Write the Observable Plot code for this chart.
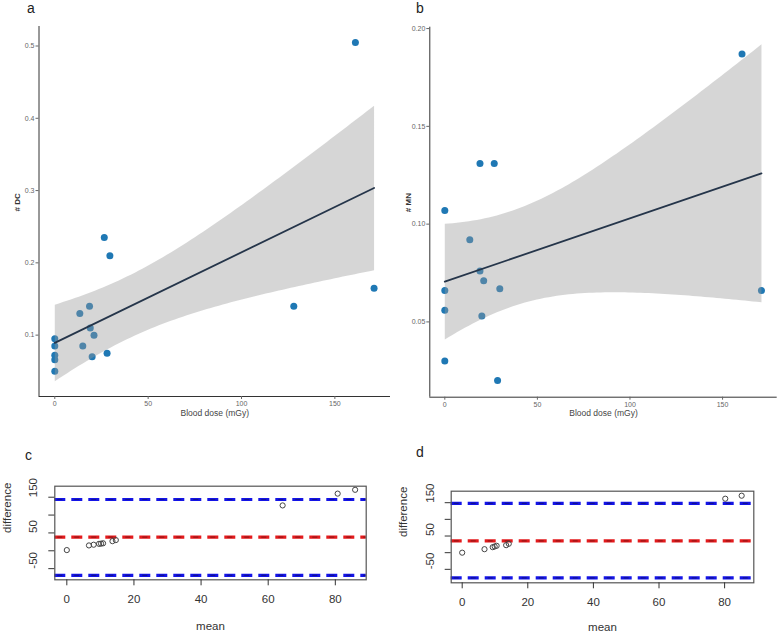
<!DOCTYPE html>
<html>
<head>
<meta charset="utf-8">
<script src="https://cdn.jsdelivr.net/npm/d3@7"></script>
<script src="https://cdn.jsdelivr.net/npm/@observablehq/plot@0.6"></script>
<style>
  html, body { margin: 0; padding: 0; background: #fff; }
  #root { position: relative; width: 778px; height: 636px; overflow: hidden; background: #fff; font-family: "Liberation Sans", Arial, sans-serif; }
  .panel { position: absolute; }
  .panel svg { overflow: visible; }
  .tag { position: absolute; font-size: 14px; color: #222; line-height: 1; }
</style>
</head>
<body>
<div id="root">
  <div class="panel" id="pa" style="left:0px;top:0px"></div>
  <div class="panel" id="pb" style="left:390px;top:0px"></div>
  <div class="panel" id="pc" style="left:0px;top:420px"></div>
  <div class="panel" id="pd" style="left:390px;top:420px"></div>
  <div class="tag" style="left:27px;top:1px">a</div>
  <div class="tag" style="left:416px;top:1px">b</div>
  <div class="tag" style="left:25px;top:448px">c</div>
  <div class="tag" style="left:416px;top:445px">d</div>
</div>
<script>
// ---- Panel a: blood dose vs # DC ----
const doseA = [161, 171, 128, 26.5, 29.5, 18.6, 13.4, 19, 21, 15, 20, 28, 0, 0, 0, 0, 0];
const dcA   = [0.505, 0.165, 0.14, 0.235, 0.21, 0.14, 0.13, 0.11, 0.10, 0.085, 0.07, 0.075, 0.095, 0.085, 0.072, 0.066, 0.05];
const xTicksAB = [0, 50, 100, 150];
const yTicksA = [0.1, 0.2, 0.3, 0.4, 0.5];

// ---- Panel b: blood dose vs # MN ----
const doseB = [160.5, 171, 19, 26.7, 0, 13.5, 19, 21, 29.7, 20, 0, 0, 0, 28.5];
const mnB   = [0.187, 0.066, 0.131, 0.131, 0.107, 0.092, 0.076, 0.071, 0.067, 0.053, 0.066, 0.056, 0.030, 0.020];
const yTicksB = [0.05, 0.10, 0.15, 0.20];

// ---- Panel c: Bland-Altman ----
const meanC = [0, 6.6, 8, 9.6, 10.2, 10.8, 13.6, 14.6, 64.3, 80.7, 85.9];
const diffC = [2, 15, 17, 19.5, 20, 21, 27, 30, 127, 160, 170.7];
const limitsC = [143.6, -69];
const biasC = [38];

// ---- Panel d: Bland-Altman ----
const meanD = [0, 6.8, 9.3, 9.9, 10.5, 13.4, 14.2, 80.2, 85.2];
const diffD = [0, 10.5, 16.5, 18.6, 20.7, 22.5, 26.7, 162, 171];
const limitsD = [147.7, -75.4];
const biasD = [35.7];

const xTicksCD = [0, 20, 40, 60, 80];
const yTicksCD = [-50, 0, 50, 100, 150];
const yLabelsCD = [150, 50, -50];

const FONT = "Liberation Sans, Arial, sans-serif";
const dotBlue = "#1f78b4";
const lineCol = "#25354a";

function scatterPanel({xs, ys, width, height, mL, mR, mT, mB, xDom, yDom, yTicks, yFmt, yLabel}) {
  const data = xs.map((x, i) => ({x, y: ys[i]}));
  return Plot.plot({
    width, height,
    marginLeft: mL, marginRight: mR, marginTop: mT, marginBottom: mB,
    style: {fontFamily: FONT, background: "transparent", overflow: "visible"},
    x: {domain: xDom},
    y: {domain: yDom},
    marks: [
      Plot.dot(data, {x: "x", y: "y", r: 3.5, fill: dotBlue, stroke: "none"}),
      Plot.linearRegressionY(data, {x: "x", y: "y", stroke: lineCol, strokeWidth: 1.8, fill: "#999999", fillOpacity: 0.4, ci: 0.95}),
      Plot.ruleX([xDom[0]], {stroke: "#333", strokeWidth: 1}),
      Plot.ruleY([yDom[0]], {stroke: "#333", strokeWidth: 1}),
      Plot.axisX({ticks: xTicksAB, tickSize: 3, tickPadding: 2, fontSize: 7, color: "#666", label: null}),
      Plot.axisY({ticks: yTicks, tickSize: 3, tickPadding: 1.5, fontSize: 7, color: "#666", tickFormat: d3.format(yFmt), label: null}),
      Plot.text(["Blood dose (mGy)"], {frameAnchor: "bottom", dy: 19, fontSize: 8.5, fill: "#444"}),
      Plot.text([yLabel], {frameAnchor: "left", dx: -21.5, rotate: -90, fontSize: 8, fontWeight: "bold", fill: "#333"})
    ]
  });
}

function baPanel({xs, ys, width, height, mL, mR, mT, mB, xDom, yDom, limits, bias, yLabDx, xLabDy, yTitleDx}) {
  const data = xs.map((x, i) => ({x, y: ys[i]}));
  return Plot.plot({
    width, height,
    marginLeft: mL, marginRight: mR, marginTop: mT, marginBottom: mB,
    style: {fontFamily: FONT, background: "transparent", overflow: "visible"},
    x: {domain: xDom},
    y: {domain: yDom},
    marks: [
      Plot.ruleY(limits, {stroke: "#1414e6", strokeWidth: 3.2, strokeDasharray: "11,6"}),
      Plot.ruleY(limits, {stroke: "#10104a", strokeWidth: 1.2, strokeOpacity: 0.55, strokeDasharray: "5,12", strokeDashoffset: -3}),
      Plot.ruleY(bias, {stroke: "#e31a1c", strokeWidth: 3.2, strokeDasharray: "11,6"}),
      Plot.ruleY(bias, {stroke: "#4a1010", strokeWidth: 1.2, strokeOpacity: 0.5, strokeDasharray: "5,12", strokeDashoffset: -3}),
      Plot.dot(data, {x: "x", y: "y", r: 2.6, stroke: "#444", strokeWidth: 1, fill: "none"}),
      Plot.frame({stroke: "#555", strokeWidth: 1.2}),
      Plot.axisX({ticks: xTicksCD, tickSize: 6, tickPadding: 9, fontSize: 11.5, color: "#333", label: null}),
      Plot.axisY({ticks: yTicksCD, tickSize: 6, tickFormat: () => "", color: "#333", label: null}),
      Plot.text(yLabelsCD, {y: d => d, text: d => String(d), frameAnchor: "left", dx: yLabDx, rotate: -90, fontSize: 11.5, fill: "#333"}),
      Plot.text(["mean"], {frameAnchor: "bottom", dy: xLabDy, fontSize: 11.5, fill: "#333"}),
      Plot.text(["difference"], {frameAnchor: "left", dx: yTitleDx, rotate: -90, fontSize: 11.5, fill: "#333"})
    ]
  });
}

document.getElementById("pa").appendChild(scatterPanel({
  xs: doseA, ys: dcA, width: 390, height: 422,
  mL: 38.5, mR: 0, mT: 26, mB: 26,
  xDom: [-8.46, 179.8], yDom: [0.0151, 0.527],
  yTicks: yTicksA, yFmt: ".1f", yLabel: "# DC"
}));

document.getElementById("pb").appendChild(scatterPanel({
  xs: doseB, ys: mnB, width: 388, height: 422,
  mL: 39.3, mR: 1.3, mT: 26.7, mB: 25.3,
  xDom: [-8.1, 179.5], yDom: [0.0115, 0.2007],
  yTicks: yTicksB, yFmt: ".2f", yLabel: "# MN"
}));

document.getElementById("pc").appendChild(baPanel({
  xs: meanC, ys: diffC, width: 390, height: 216,
  mL: 54.3, mR: 24.3, mT: 65.7, mB: 56.7,
  xDom: [-3.58, 89.2], yDom: [-81.2, 180.8],
  limits: limitsC, bias: biasC, yLabDx: -21, xLabDy: 50, yTitleDx: -47.6
}));

document.getElementById("pd").appendChild(baPanel({
  xs: meanD, ys: diffD, width: 388, height: 216,
  mL: 60.7, mR: 24.7, mT: 70.7, mB: 53.7,
  xDom: [-3.35, 88.9], yDom: [-90.4, 184.5],
  limits: limitsD, bias: biasD, yLabDx: -21, xLabDy: 48, yTitleDx: -47.4
}));
</script>
</body>
</html>
